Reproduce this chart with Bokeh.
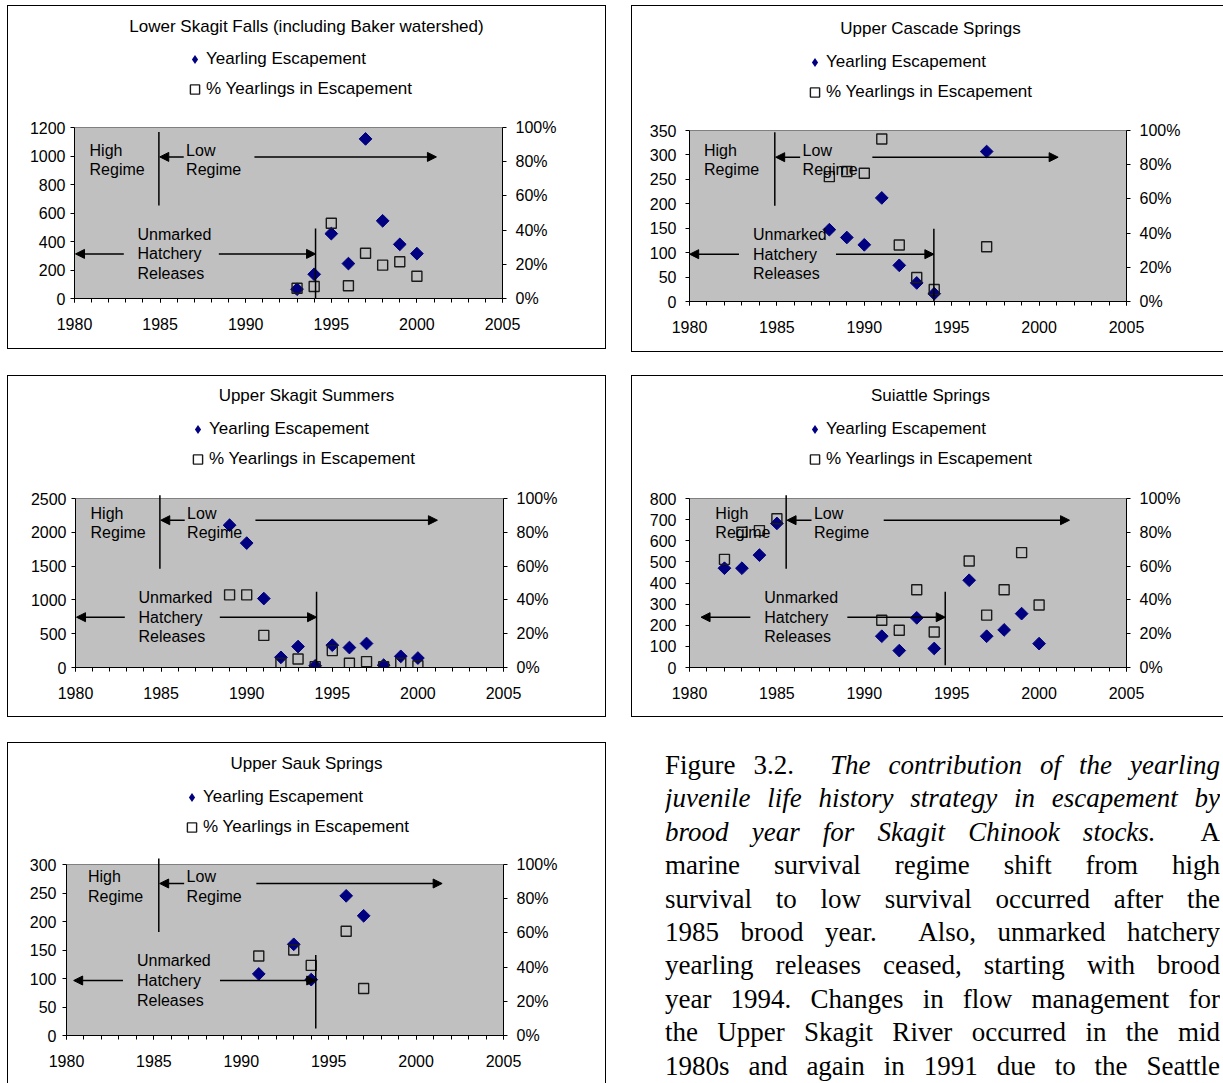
import math
from bokeh.plotting import figure
from bokeh.layouts import column, row
from bokeh.models import (Range1d, LinearAxis, SingleIntervalTicker, PrintfTickFormatter,
                          Label, Arrow, NormalHead, Legend, LegendItem, BoxAnnotation,
                          Div, Spacer, ColumnDataSource)
from bokeh.embed import file_html
from bokeh.resources import INLINE

# ---------------- data (brood year, yearling escapement, % yearlings in escapement) ----------------
lsf_years = [1993, 1994, 1995, 1996, 1997, 1998, 1999, 2000]
lsf_escapement = [65, 170, 455, 245, 1120, 545, 380, 315]
lsf_pct = [6, 7, 44, 7.5, 26.5, 19.5, 21.5, 13]

ucs_years = [1988, 1989, 1990, 1991, 1992, 1993, 1994, 1997]
ucs_escapement = [147, 131, 116, 212, 74, 38, 16, 307]
ucs_pct = [73, 76, 75, 95, 33, 14, 7, 32]

uss_years = [1989, 1990, 1991, 1992, 1993, 1994, 1995, 1996, 1997, 1998, 1999, 2000]
uss_escapement = [2105, 1840, 1020, 150, 310, 25, 330, 295, 355, 35, 165, 140]
uss_pct = [43, 43, 19, 2.5, 5, 0.5, 10, 2.5, 3.5, 0.5, 2.5, 1]

sui_years = [1982, 1983, 1984, 1985, 1991, 1992, 1993, 1994, 1996, 1997, 1998, 1999, 2000]
sui_escapement = [470, 470, 532, 682, 148, 80, 235, 90, 413, 148, 178, 255, 113]
sui_pct = [64, 80, 81, 88, 28, 22, 46, 21, 63, 31, 46, 68, 37]

usk_years = [1991, 1993, 1994, 1996, 1997]
usk_escapement = [108, 160, 98, 245, 210]
usk_pct = [46.5, 50, 41, 61, 27.5]

# ---------------- texts / axes ----------------
titles = ["Lower Skagit Falls (including Baker watershed)", "Upper Cascade Springs",
          "Upper Skagit Summers", "Suiattle Springs", "Upper Sauk Springs"]
y_max = [1200, 350, 2500, 800, 300]
y_step = [200, 50, 500, 100, 50]
LEGEND_ESC = "Yearling Escapement"
LEGEND_PCT = "% Yearlings in Escapement"
X_START, X_END, X_STEP = 1980, 2005, 5
PCT_MAX, PCT_STEP = 100, 20

caption_lines = [
    'Figure 3.2.&nbsp; <i>The contribution of the yearling</i>',
    '<i>juvenile life history strategy in escapement by</i>',
    '<i>brood year for Skagit Chinook stocks.</i>&nbsp; A',
    'marine survival regime shift from high',
    'survival to low survival occurred after the',
    '1985 brood year.&nbsp; Also, unmarked hatchery',
    'yearling releases ceased, starting with brood',
    'year 1994. Changes in flow management for',
    'the Upper Skagit River occurred in the mid',
    '1980s and again in 1991 due to the Seattle',
]

FONT = "Liberation Sans"
NAVY = "#000080"

# annotation geometry (years, based on first panel); shifted per panel by dx
ANN = dict(high_x=1980.88, regime_x=1984.93, low_tail=1986.38, low_head=1984.98, low_x=1986.52,
           lowr_tail=1990.51, lowr_head=2001.14, hl_tail=1982.88, hl_head=1980.06, unm_x=1983.68,
           hr_tail=1988.43, hr_head=1994.08, hatch_x=1994.08)

# layout of each panel: canvas size, plot-area left/width, plot-area top/bottom (canvas px),
# title centre, legend left & bottom (canvas px), annotation shifts
LAYOUT = [
    dict(w=597, h=342, fl=66, fw=428, pt=121, pb=292, tx=298, ty=20, lx=175, lb=95, dx=0.0, hdx=0.0, T=4.4, ls=5),
    dict(w=591, h=345, fl=57, fw=437, pt=124, pb=295, tx=298, ty=22, lx=171, lb=98, dx=-0.05, hdx=-0.1, T=1.7, ls=9),
    dict(w=597, h=340, fl=67, fw=428, pt=122, pb=291, tx=298, ty=19, lx=178, lb=95, dx=0.0, hdx=0.0, T=-3.3, ls=5),
    dict(w=591, h=340, fl=57, fw=437, pt=122, pb=291, tx=298, ty=19, lx=171, lb=95, dx=0.6, hdx=0.55, T=-3.3, ls=9),
    dict(w=597, h=340, fl=58, fw=437, pt=121, pb=292, tx=298, ty=20, lx=172, lb=96, dx=0.35, hdx=0.18, T=-6.0, ls=6),
]


def make_panel(i, years, esc, pct):
    L = LAYOUT[i]
    w, h, fl, fw = L["w"], L["h"], L["fl"], L["fw"]
    FH = L["pb"]                 # frame runs from canvas top to the x axis
    fhp = L["pb"] - L["pt"]      # height of the grey plot area
    fb = h - FH
    fr = w - fl - fw
    ymax = y_max[i]
    scale = FH / fhp
    p = figure(width=w, height=h, title=None,
               x_range=Range1d(X_START, X_END), y_range=Range1d(0, ymax * scale),
               output_backend="svg", toolbar_location=None,
               min_border_left=fl, min_border_right=fr, min_border_top=0, min_border_bottom=fb,
               background_fill_color="white", border_fill_color="white",
               outline_line_color=None, styles={"outline": "1px solid black"})
    p.xgrid.visible = False
    p.ygrid.visible = False
    p.xaxis.ticker = SingleIntervalTicker(interval=X_STEP, num_minor_ticks=5)
    p.yaxis.ticker = SingleIntervalTicker(interval=y_step[i])
    p.yaxis.bounds = (0, ymax)
    p.extra_y_ranges = {"pct": Range1d(0, PCT_MAX * scale)}
    ax_r = LinearAxis(y_range_name="pct", ticker=SingleIntervalTicker(interval=PCT_STEP),
                      formatter=PrintfTickFormatter(format="%d%%"), bounds=(0, PCT_MAX))
    p.add_layout(ax_r, "right")

    # grey plot area
    p.add_layout(BoxAnnotation(left=X_START, right=X_END, bottom=0, top=ymax, level="underlay",
                               fill_color="#C0C0C0", fill_alpha=1, line_color="#808080",
                               line_width=1, line_alpha=1))

    for ax in [p.xaxis[0], p.yaxis[0], ax_r]:
        ax.axis_line_color = "black"
        ax.axis_line_width = 1
        ax.major_tick_line_color = "black"
        ax.major_tick_out = 4
        ax.major_tick_in = 0
        ax.minor_tick_line_color = None
        ax.major_label_text_font = FONT
        ax.major_label_text_font_size = "16px"
        ax.major_label_text_color = "black"
    p.yaxis[0].major_label_standoff = L["ls"]
    ax_r.major_label_standoff = 9
    p.xaxis[0].minor_tick_line_color = "black"
    p.xaxis[0].minor_tick_out = 4
    p.xaxis[0].minor_tick_in = 0
    p.xaxis[0].major_label_standoff = 15

    src = ColumnDataSource(dict(year=years, escapement=esc, pct=pct))
    p.scatter("year", "escapement", source=src, marker="square", angle=math.pi / 4, size=9,
              fill_color=NAVY, line_color=NAVY)
    r_pct = p.scatter("year", "pct", source=src, y_range_name="pct", marker="square", size=10,
                      fill_color=None, line_color="#1a1a1a", line_width=1.4)
    # legend key for the escapement series (diamond); drawn at negligible size in the plot
    r_key = p.scatter("year", "escapement", source=src, marker="diamond", size=0.01,
                      fill_color=NAVY, line_color=None)

    legend = Legend(items=[LegendItem(label=LEGEND_ESC, renderers=[r_key]),
                           LegendItem(label=LEGEND_PCT, renderers=[r_pct])],
                    location=(L["lx"] - fl, FH - L["lb"]), orientation="vertical",
                    border_line_color=None, background_fill_alpha=0, padding=0, margin=0,
                    spacing=6, glyph_width=23, glyph_height=24, label_height=24,
                    label_standoff=0, label_text_font=FONT, label_text_font_size="17px",
                    label_text_color="black")
    p.add_layout(legend)

    p.add_layout(Label(x=L["tx"] - fl, y=FH - L["ty"], x_units="screen", y_units="screen",
                       text=titles[i], text_align="center", text_baseline="middle",
                       text_font=FONT, text_font_size="17px", text_color="black"))

    # annotations (regime shift / unmarked hatchery releases)
    T, dx, hdx = L["T"], L["dx"], L["hdx"]

    def yd(px):
        return ymax * (1 - (T + px) / fhp)

    def seg(x0, y0, x1, y1, head):
        p.add_layout(Arrow(x_start=x0, y_start=y0, x_end=x1, y_end=y1,
                           end=NormalHead(size=9, fill_color="black", line_color="black",
                                          line_width=1) if head else None,
                           line_color="black", line_width=1.5))

    seg(ANN["regime_x"] + dx, yd(0), ANN["regime_x"] + dx, yd(73.5), False)
    seg(ANN["low_tail"] + dx, yd(25), ANN["low_head"] + dx, yd(25), True)
    seg(ANN["lowr_tail"] + dx, yd(25), ANN["lowr_head"] + dx, yd(25), True)
    seg(ANN["hatch_x"] + hdx, yd(96.5), ANN["hatch_x"] + hdx, yd(170), False)
    seg(ANN["hl_tail"] + dx, yd(122), ANN["hl_head"] + dx, yd(122), True)
    seg(ANN["hr_tail"] + dx, yd(122), ANN["hr_head"] + hdx, yd(122), True)
    for txt, key, off in [("High", "high_x", 18.3), ("Regime", "high_x", 37.5),
                          ("Low", "low_x", 18.3), ("Regime", "low_x", 37.5),
                          ("Unmarked", "unm_x", 102.3), ("Hatchery", "unm_x", 122),
                          ("Releases", "unm_x", 141.5)]:
        p.add_layout(Label(x=ANN[key] + dx, y=yd(off), text=txt, text_align="left",
                           text_baseline="middle", text_font=FONT, text_font_size="16px",
                           text_color="black"))
    return p


p1 = make_panel(0, lsf_years, lsf_escapement, lsf_pct)
p2 = make_panel(1, ucs_years, ucs_escapement, ucs_pct)
p3 = make_panel(2, uss_years, uss_escapement, uss_pct)
p4 = make_panel(3, sui_years, sui_escapement, sui_pct)
p5 = make_panel(4, usk_years, usk_escapement, usk_pct)

caption_html = ('<div style="width:555px;font-family:\'Liberation Serif\',\'Times New Roman\',serif;'
                'font-size:27px;line-height:33.4px;text-align:justify;text-align-last:justify;'
                'color:black;padding-top:6px;margin:0;">' + "<br>".join(caption_lines) + '</div>')
caption = Div(text=caption_html, width=555, height=340, margin=0, styles={"overflow": "hidden"})


def sp(w, h):
    return Spacer(width=w, height=h, margin=0)


layout = column(
    sp(1, 6),
    row(sp(8, 1), p1, sp(27, 1), p2),
    sp(1, 25),
    row(sp(8, 1), p3, sp(27, 1), p4),
    sp(1, 27),
    row(sp(8, 1), p5, sp(60, 1), caption),
)

open("out.html", "w").write(file_html(layout, INLINE))
